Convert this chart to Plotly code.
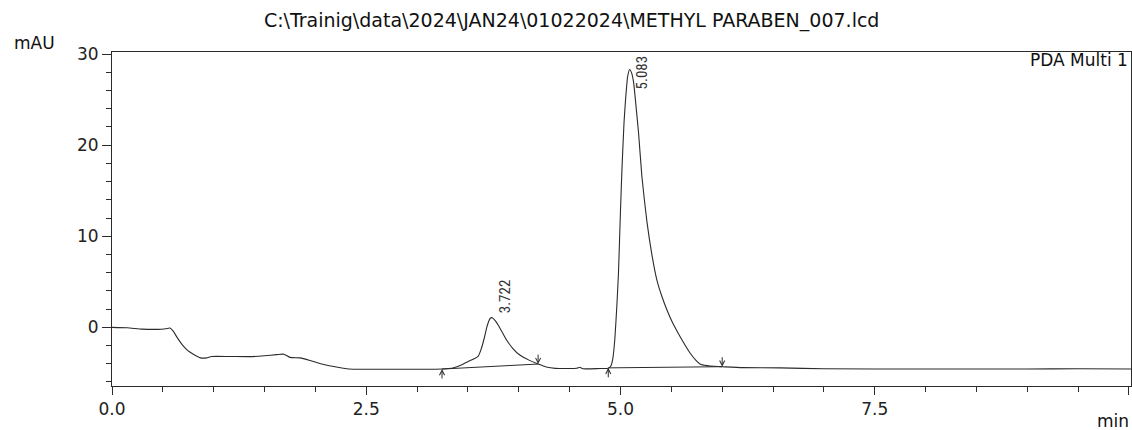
import plotly.graph_objects as go

# --- chromatogram data (time in min, signal in mAU) ---
time_min = [0.00, 0.15, 0.30, 0.45, 0.53, 0.57, 0.60, 0.64, 0.69, 0.74, 0.80, 0.87, 0.93, 0.98,
            1.15, 1.35, 1.50, 1.62, 1.69, 1.75, 1.85, 1.95, 2.05, 2.18, 2.33, 2.60, 3.00, 3.245,
            3.36, 3.44, 3.50, 3.56, 3.60, 3.63, 3.66, 3.69, 3.72, 3.74, 3.77, 3.80, 3.84, 3.88,
            3.94, 4.01, 4.10, 4.19, 4.27, 4.36, 4.57, 4.60, 4.63, 4.80, 4.88, 4.905, 4.925, 4.945,
            4.965, 4.98, 5.00, 5.015, 5.035, 5.05, 5.07, 5.09, 5.11, 5.13, 5.155, 5.178, 5.211, 5.26,
            5.31, 5.36, 5.41, 5.457, 5.51, 5.57, 5.63, 5.686, 5.74, 5.785, 5.85, 5.92, 6.00, 6.20,
            6.57, 7.00, 8.00, 9.00, 9.50, 10.02]
signal_mau = [0.00, -0.05, -0.20, -0.22, -0.15, -0.08, -0.40, -1.10, -1.90, -2.50, -2.95, -3.35, -3.35, -3.20,
              -3.20, -3.22, -3.12, -3.00, -2.95, -3.30, -3.35, -3.65, -4.00, -4.30, -4.57, -4.60, -4.60, -4.58,
              -4.43, -4.10, -3.77, -3.45, -3.20, -2.40, -1.20, 0.20, 1.00, 1.05, 0.70, 0.20, -0.60, -1.39,
              -2.30, -3.04, -3.60, -4.03, -4.35, -4.50, -4.50, -4.39, -4.55, -4.52, -4.50, -4.25, -3.40, -1.20,
              2.50, 5.90, 12.80, 17.50, 22.50, 25.00, 27.50, 28.30, 27.90, 26.80, 24.00, 21.30, 16.50, 11.60,
              7.90, 5.10, 3.30, 1.90, 0.55, -0.70, -1.85, -2.85, -3.60, -4.05, -4.20, -4.28, -4.32, -4.42,
              -4.45, -4.55, -4.58, -4.58, -4.55, -4.58]

# peak table
peak_rt = [3.722, 5.083]
peak_height = [1.05, 28.3]
peak_labels = ["3.722", "5.083"]

# integration baselines (start, end) per peak
base_start_t = [3.245, 4.88]
base_start_y = [-4.58, -4.45]
base_end_t = [4.19, 6.00]
base_end_y = [-4.03, -4.32]

title_text = r"C:\Trainig\data\2024\JAN24\01022024\METHYL PARABEN_007.lcd"
x_tickvals = [0.0, 2.5, 5.0, 7.5, 10.0]
x_ticktext = ["0.0", "2.5", "5.0", "7.5", ""]
y_tickvals = [0, 10, 20, 30]

INK = "#2b2b2b"
FONT = "DejaVu Sans, Verdana, sans-serif"
NARROW = "Liberation Sans Narrow, Arial Narrow, Roboto Condensed, sans-serif"

fig = go.Figure()
fig.add_trace(go.Scatter(x=time_min, y=signal_mau, mode="lines",
                         line=dict(color=INK, width=1.1, shape="spline", smoothing=0.5),
                         hoverinfo="skip", showlegend=False))
for i in range(len(base_start_t)):
    fig.add_trace(go.Scatter(x=[base_start_t[i], base_end_t[i]], y=[base_start_y[i], base_end_y[i]],
                             mode="lines", line=dict(color=INK, width=1),
                             hoverinfo="skip", showlegend=False))

annotations = []
# start arrows (pointing up, from below)
for t, y in zip(base_start_t, base_start_y):
    annotations.append(dict(x=t, y=y, ax=t, ay=y - 1.2, xref="x", yref="y", axref="x", ayref="y",
                            showarrow=True, arrowhead=5, arrowsize=1, arrowwidth=1,
                            arrowcolor=INK, text=""))
# end arrows (pointing down, from above)
for t, y in zip(base_end_t, base_end_y):
    annotations.append(dict(x=t, y=y, ax=t, ay=y + 1.2, xref="x", yref="y", axref="x", ayref="y",
                            showarrow=True, arrowhead=5, arrowsize=1, arrowwidth=1,
                            arrowcolor=INK, text=""))
# peak labels
label_shift_y = [21, -3]
for rt, h, lab, sy in zip(peak_rt, peak_height, peak_labels, label_shift_y):
    annotations.append(dict(x=rt, y=h, xref="x", yref="y", text=lab, showarrow=False,
                            textangle=-90, xanchor="center", yanchor="middle",
                            xshift=14, yshift=sy, font=dict(family=NARROW, size=15, color="#333")))

annotations.append(dict(x=-0.0756, y=1.027, xref="paper", yref="paper", text="mAU", showarrow=False,
                        xanchor="center", yanchor="middle", font=dict(family=FONT, size=17, color="#111")))
annotations.append(dict(x=1.0, y=-0.105, xref="paper", yref="paper", text="min", showarrow=False,
                        xanchor="right", yanchor="middle", font=dict(family=FONT, size=17, color="#111")))
annotations.append(dict(x=0.999, y=0.976, xref="paper", yref="paper", text="PDA Multi 1", showarrow=False,
                        xanchor="right", yanchor="middle", font=dict(family=FONT, size=17, color="#111")))

fig.update_layout(
    width=1132, height=430,
    margin=dict(l=112, r=1, t=52, b=44),
    paper_bgcolor="white", plot_bgcolor="white",
    title=dict(text=title_text, x=0.505, xref="container", xanchor="center",
               y=1 - 20 / 430, yref="container", yanchor="middle",
               font=dict(family=FONT, size=19, color="#111")),
    annotations=annotations,
    showlegend=False,
    xaxis=dict(range=[0, 10.02], tickvals=x_tickvals, ticktext=x_ticktext,
               showline=True, linecolor=INK, linewidth=1, mirror=True,
               ticks="outside", ticklen=8, tickcolor=INK, tickwidth=1,
               minor=dict(dtick=0.5, ticks="outside", ticklen=5, tickcolor=INK, tickwidth=1),
               showgrid=False, zeroline=False,
               tickfont=dict(family=FONT, size=17, color="#222")),
    yaxis=dict(range=[-6.44, 30.22], tickvals=y_tickvals,
               showline=True, linecolor=INK, linewidth=1, mirror=True,
               ticks="outside", ticklen=9, tickcolor=INK, tickwidth=1,
               minor=dict(dtick=2, ticks="outside", ticklen=5, tickcolor=INK, tickwidth=1),
               showgrid=False, zeroline=False, ticklabelstandoff=0,
               tickfont=dict(family=FONT, size=17, color="#222")),
)

fig.write_html("out.html", config={"displayModeBar": False},
               post_script="document.body.style.margin='0px';document.body.style.overflow='hidden';")
